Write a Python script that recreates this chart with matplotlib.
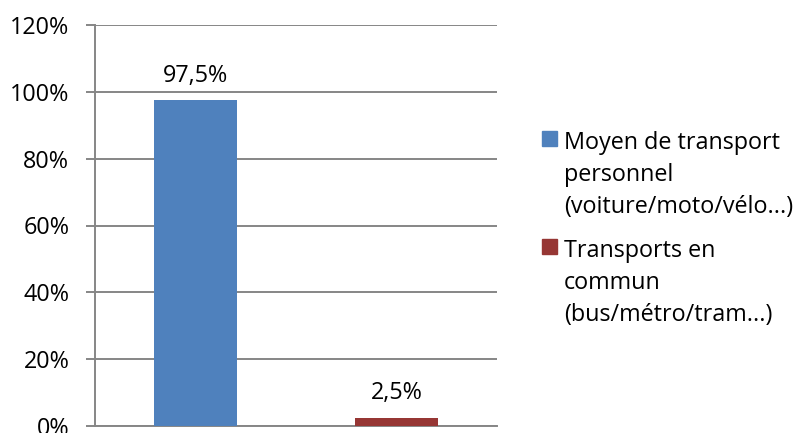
import matplotlib
matplotlib.use("Agg")
import matplotlib.pyplot as plt
from matplotlib.patches import Rectangle

# Data
series_labels = [
    "Moyen de transport\npersonnel\n(voiture/moto/vélo...)",
    "Transports en\ncommun\n(bus/métro/tram...)",
]
values = [97.5, 2.5]
value_labels = ["97,5%", "2,5%"]
y_ticks = [0, 20, 40, 60, 80, 100, 120]
y_tick_labels = ["0%", "20%", "40%", "60%", "80%", "100%", "120%"]
colors = ["#4F81BD", "#963634"]

FONT = "Open Sans"
FS = 16.8
GRID = "#868686"
W, H = 804, 433

fig = plt.figure(figsize=(W / 100, H / 100), dpi=100)
ax = fig.add_axes([95 / W, 7 / H, 402 / W, 401 / H])

for i, (v, c) in enumerate(zip(values, colors)):
    ax.bar(i, v, width=0.41, color=c, zorder=3)
    ax.annotate(value_labels[i], (i, v), xytext=(0, 17.5), textcoords="offset points",
                ha="center", va="center", fontsize=FS, family=FONT)

ax.set_xlim(-0.5, 1.5)
ax.set_ylim(0, 120)
ax.set_yticks(y_ticks)
ax.set_yticklabels(y_tick_labels, fontsize=FS, family=FONT)
ax.set_xticks([])
ax.yaxis.grid(True, color=GRID, linewidth=1.4, zorder=0)
ax.tick_params(axis="y", length=6.5, width=1.4, color=GRID, pad=12)
for s in ["top", "right"]:
    ax.spines[s].set_visible(False)
for s in ["left", "bottom"]:
    ax.spines[s].set_color(GRID)
    ax.spines[s].set_linewidth(1.4)

# Legend: square aligned with the first line of each wrapped label
first_line_y = [140, 248]
line_step = 32
for lab, c, y0 in zip(series_labels, colors, first_line_y):
    fig.patches.append(Rectangle((542 / W, 1 - (y0 + 6) / H), 15 / W, 15 / H,
                                 transform=fig.transFigure, color=c, figure=fig))
    for k, line in enumerate(lab.split("\n")):
        fig.text(564 / W, 1 - (y0 + k * line_step) / H, line, ha="left",
                 va="center_baseline", fontsize=FS, family=FONT)

fig.savefig("out.png", dpi=100)
